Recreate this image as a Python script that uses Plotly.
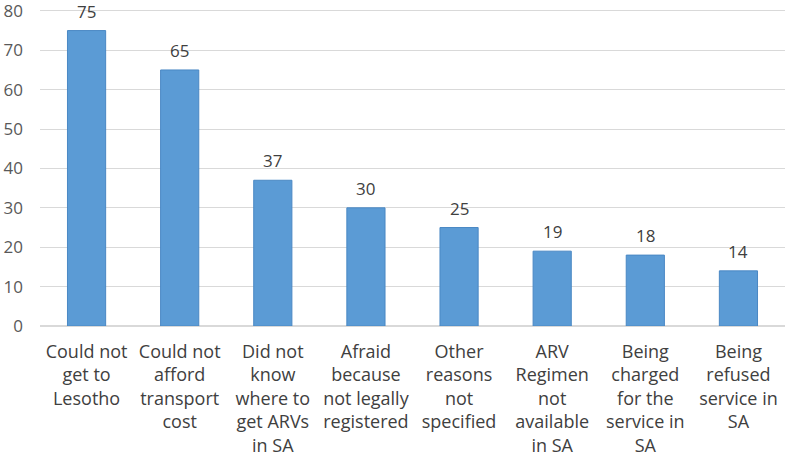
import plotly.graph_objects as go

categories = [
    "Could not<br>get to<br>Lesotho",
    "Could not<br>afford<br>transport<br>cost",
    "Did not<br>know<br>where to<br>get ARVs<br>in SA",
    "Afraid<br>because<br>not legally<br>registered",
    "Other<br>reasons<br>not<br>specified",
    "ARV<br>Regimen<br>not<br>available<br>in SA",
    "Being<br>charged<br>for the<br>service in<br>SA",
    "Being<br>refused<br>service in<br>SA",
]
values = [75, 65, 37, 30, 25, 19, 18, 14]

font_family = "Open Sans, Liberation Sans, sans-serif"
text_color = "#404040"

fig = go.Figure(
    go.Bar(
        x=categories,
        y=values,
        marker=dict(color="#5b9bd5", line=dict(color="#4a88c4", width=1)),
    )
)

# value labels sit a little higher above the bars than plotly's own outside text
for cat, val in zip(categories, values):
    fig.add_annotation(
        x=cat, y=val, text=str(val),
        showarrow=False, yanchor="bottom", yshift=6,
        font=dict(size=17, color=text_color, family=font_family),
    )

fig.update_layout(
    width=787,
    height=461,
    margin=dict(l=40, r=2, t=3, b=135),
    plot_bgcolor="white",
    paper_bgcolor="white",
    bargap=0.59,
    showlegend=False,
    font=dict(family=font_family, size=17, color=text_color),
)
fig.update_yaxes(
    range=[0, 82],
    tickvals=[0, 10, 20, 30, 40, 50, 60, 70, 80],
    showgrid=True,
    gridcolor="#d9d9d9",
    gridwidth=1,
    zeroline=True,
    zerolinecolor="#d9d9d9",
    tickfont=dict(size=17, color="#595959"),
    ticklabelstandoff=16,
    ticklabeloverflow="allow",
    automargin=False,
)
fig.update_xaxes(
    tickangle=0,
    showline=False,
    tickfont=dict(size=18, color=text_color),
    ticklabelstandoff=13,
    automargin=False,
)

# page body has a default 8px margin; drop it so the figure fills the window
fig.write_html(
    "out.html",
    config={"displayModeBar": False},
    post_script="document.body.style.margin='0';",
)
